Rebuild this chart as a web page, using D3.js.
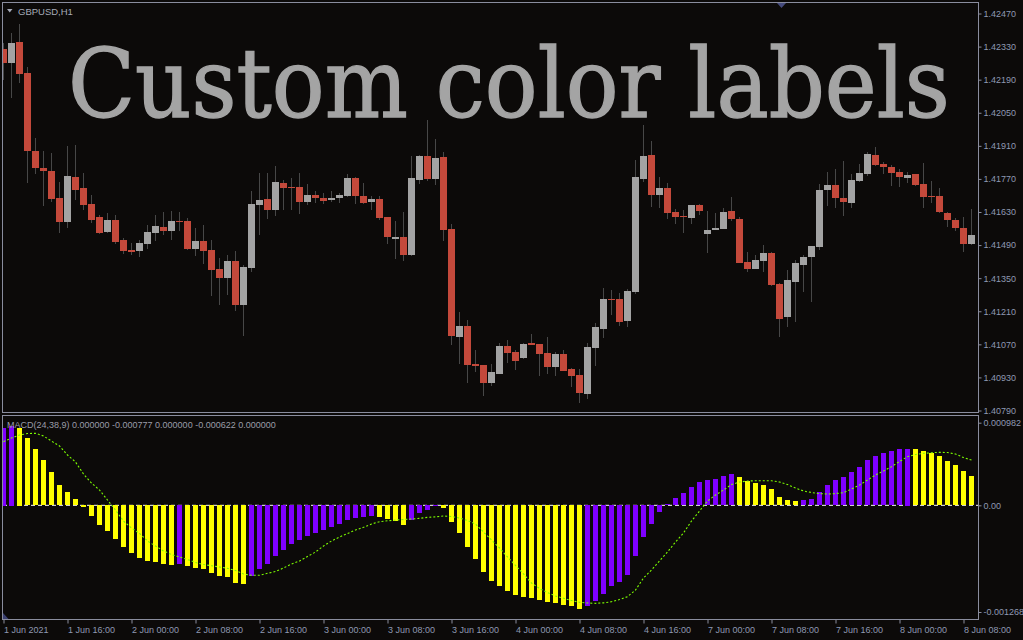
<!DOCTYPE html>
<html><head><meta charset="utf-8">
<script src="https://cdn.jsdelivr.net/npm/d3@7"></script>
<style>html,body{margin:0;padding:0;background:#0c0a09;overflow:hidden}</style>
</head><body><svg id="c" width="1023" height="640"></svg>
<script>
const symbolLabel = "GBPUSD,H1";
const title = "Custom color labels";
const macdLabel = "MACD(24,38,9) 0.000000 -0.000777 0.000000 -0.000622 0.000000";

const open = [
1.42320,1.42260,1.42349,1.42218,1.41888,1.41816,1.41803,1.41689,1.41588,1.41778,
1.41732,1.41664,1.41609,1.41545,1.41596,1.41511,1.41469,1.41465,1.41495,1.41541,
1.41567,1.41550,1.41592,1.41592,1.41473,1.41507,1.41469,1.41389,1.41351,1.41423,
1.41236,1.41393,1.41660,1.41685,1.41638,1.41753,1.41736,1.41736,1.41672,1.41702,
1.41689,1.41681,1.41689,1.41698,1.41774,1.41698,1.41672,1.41685,1.41609,1.41516,
1.41524,1.41448,1.41765,1.41867,1.41770,1.41863,1.41558,1.41101,1.41148,1.40987,
1.40982,1.40906,1.40944,1.41063,1.41037,1.41012,1.41076,1.41071,1.41033,1.40974,
1.41029,1.40966,1.40940,1.40860,1.41054,1.41135,1.41262,1.41262,1.41169,1.41291,
1.41770,1.41871,1.41702,1.41732,1.41630,1.41613,1.41605,1.41660,1.41537,1.41554,
1.41558,1.41634,1.41600,1.41418,1.41389,1.41423,1.41456,1.41325,1.41186,1.41334,
1.41406,1.41440,1.41482,1.41723,1.41744,1.41689,1.41668,1.41761,1.41791,1.41871,
1.41833,1.41820,1.41799,1.41774,1.41791,1.41749,1.41698,1.41698,1.41626,1.41596,
1.41562,1.41495];
const high = [
1.42345,1.42387,1.42426,1.42244,1.41943,1.41888,1.41880,1.41757,1.41909,1.41913,
1.41795,1.41702,1.41617,1.41626,1.41617,1.41520,1.41499,1.41511,1.41575,1.41617,
1.41630,1.41634,1.41630,1.41605,1.41562,1.41575,1.41511,1.41435,1.41448,1.41465,
1.41406,1.41719,1.41795,1.41795,1.41825,1.41765,1.41774,1.41795,1.41749,1.41719,
1.41710,1.41719,1.41710,1.41791,1.41778,1.41753,1.41698,1.41698,1.41609,1.41592,
1.41630,1.41867,1.41871,1.42019,1.41939,1.41884,1.41579,1.41207,1.41173,1.41046,
1.40982,1.40987,1.41076,1.41088,1.41046,1.41076,1.41114,1.41071,1.41101,1.41037,
1.41046,1.40970,1.40966,1.41076,1.41160,1.41308,1.41300,1.41287,1.41304,1.41850,
1.41998,1.41930,1.41778,1.41753,1.41643,1.41638,1.41660,1.41664,1.41634,1.41626,
1.41647,1.41693,1.41609,1.41461,1.41448,1.41490,1.41461,1.41330,1.41385,1.41427,
1.41448,1.41486,1.41749,1.41799,1.41812,1.41846,1.41791,1.41833,1.41884,1.41905,
1.41842,1.41829,1.41812,1.41799,1.41791,1.41837,1.41761,1.41732,1.41630,1.41605,
1.41609,1.41643];
const low = [
1.42189,1.42112,1.42176,1.41753,1.41791,1.41655,1.41672,1.41541,1.41562,1.41681,
1.41638,1.41583,1.41537,1.41541,1.41495,1.41452,1.41448,1.41440,1.41473,1.41507,
1.41533,1.41511,1.41550,1.41469,1.41444,1.41410,1.41274,1.41236,1.41279,1.41211,
1.41105,1.41376,1.41533,1.41600,1.41613,1.41638,1.41638,1.41622,1.41660,1.41668,
1.41664,1.41672,1.41668,1.41693,1.41664,1.41664,1.41638,1.41596,1.41495,1.41431,
1.41423,1.41444,1.41749,1.41761,1.41744,1.41507,1.41067,1.40987,1.40906,1.40953,
1.40851,1.40894,1.40944,1.40991,1.40961,1.41008,1.41067,1.40936,1.40944,1.40936,
1.40957,1.40889,1.40822,1.40839,1.40978,1.41097,1.41194,1.41148,1.41143,1.41283,
1.41757,1.41651,1.41647,1.41600,1.41579,1.41541,1.41579,1.41617,1.41456,1.41554,
1.41558,1.41592,1.41414,1.41376,1.41389,1.41376,1.41317,1.41101,1.41143,1.41164,
1.41291,1.41249,1.41469,1.41655,1.41647,1.41613,1.41647,1.41757,1.41782,1.41825,
1.41791,1.41740,1.41736,1.41753,1.41740,1.41647,1.41668,1.41626,1.41567,1.41550,
1.41461,1.41490];
const close = [
1.42260,1.42345,1.42214,1.41888,1.41816,1.41803,1.41685,1.41588,1.41782,1.41723,
1.41660,1.41596,1.41541,1.41596,1.41503,1.41465,1.41461,1.41499,1.41545,1.41571,
1.41550,1.41592,1.41588,1.41473,1.41507,1.41465,1.41385,1.41351,1.41423,1.41236,
1.41397,1.41664,1.41681,1.41638,1.41757,1.41732,1.41732,1.41672,1.41702,1.41689,
1.41677,1.41689,1.41702,1.41774,1.41698,1.41668,1.41685,1.41605,1.41524,1.41524,
1.41448,1.41774,1.41867,1.41770,1.41858,1.41554,1.41105,1.41148,1.40982,1.40978,
1.40906,1.40953,1.41063,1.41033,1.40999,1.41071,1.41067,1.41029,1.40974,1.41029,
1.40957,1.40936,1.40864,1.41059,1.41143,1.41262,1.41258,1.41164,1.41296,1.41778,
1.41867,1.41702,1.41732,1.41626,1.41609,1.41609,1.41660,1.41634,1.41554,1.41562,
1.41630,1.41600,1.41414,1.41389,1.41427,1.41456,1.41321,1.41177,1.41342,1.41414,
1.41440,1.41486,1.41723,1.41744,1.41689,1.41672,1.41765,1.41795,1.41875,1.41829,
1.41820,1.41795,1.41778,1.41787,1.41744,1.41693,1.41693,1.41630,1.41596,1.41562,
1.41495,1.41533];

const macd = [
0.000922,0.000946,0.000922,0.000800,0.000669,0.000538,0.000396,0.000241,0.000158,0.000075,
-0.000029,-0.000135,-0.000242,-0.000314,-0.000409,-0.000504,-0.000575,-0.000635,-0.000670,-0.000682,
-0.000701,-0.000710,-0.000704,-0.000730,-0.000754,-0.000765,-0.000813,-0.000849,-0.000860,-0.000932,
-0.000934,-0.000849,-0.000765,-0.000706,-0.000611,-0.000540,-0.000468,-0.000421,-0.000365,-0.000338,
-0.000302,-0.000266,-0.000231,-0.000183,-0.000159,-0.000147,-0.000135,-0.000138,-0.000171,-0.000195,
-0.000242,-0.000183,-0.000100,-0.000064,-0.000010,-0.000040,-0.000207,-0.000338,-0.000504,-0.000647,
-0.000801,-0.000908,-0.000967,-0.001027,-0.001074,-0.001098,-0.001110,-0.001134,-0.001158,-0.001169,
-0.001193,-0.001205,-0.001241,-0.001205,-0.001146,-0.001063,-0.000967,-0.000920,-0.000837,-0.000611,
-0.000385,-0.000231,-0.000088,0.000012,0.000087,0.000146,0.000217,0.000277,0.000301,0.000313,
0.000348,0.000372,0.000336,0.000289,0.000265,0.000241,0.000194,0.000099,0.000063,0.000051,
0.000063,0.000075,0.000158,0.000241,0.000301,0.000336,0.000396,0.000455,0.000538,0.000586,
0.000622,0.000645,0.000669,0.000672,0.000668,0.000645,0.000622,0.000586,0.000527,0.000479,
0.000408,0.000348];
const signal = [
0.000756,0.000800,0.000836,0.000853,0.000856,0.000824,0.000764,0.000705,0.000598,0.000515,
0.000372,0.000265,0.000182,0.000063,-0.000056,-0.000187,-0.000270,-0.000333,-0.000424,-0.000484,
-0.000543,-0.000585,-0.000614,-0.000644,-0.000680,-0.000704,-0.000718,-0.000733,-0.000749,-0.000775,
-0.000816,-0.000832,-0.000832,-0.000808,-0.000787,-0.000745,-0.000698,-0.000662,-0.000609,-0.000555,
-0.000484,-0.000424,-0.000377,-0.000335,-0.000294,-0.000261,-0.000222,-0.000195,-0.000184,-0.000175,
-0.000169,-0.000163,-0.000155,-0.000143,-0.000137,-0.000127,-0.000133,-0.000151,-0.000181,-0.000222,
-0.000317,-0.000412,-0.000507,-0.000614,-0.000715,-0.000816,-0.000923,-0.000989,-0.001036,-0.001078,
-0.001105,-0.001131,-0.001153,-0.001161,-0.001165,-0.001159,-0.001146,-0.001120,-0.001086,-0.001007,
-0.000864,-0.000769,-0.000662,-0.000555,-0.000436,-0.000329,-0.000187,-0.000068,0.000051,0.000122,
0.000182,0.000247,0.000277,0.000289,0.000292,0.000292,0.000292,0.000277,0.000247,0.000206,
0.000170,0.000152,0.000140,0.000134,0.000140,0.000150,0.000194,0.000241,0.000301,0.000360,
0.000408,0.000459,0.000521,0.000578,0.000604,0.000618,0.000625,0.000630,0.000628,0.000610,
0.000568,0.000538];

const timeTickIndex = [0,8,16,24,32,40,48,56,64,72,80,88,96,104,112,120];
const timeTickLabels = ["1 Jun 2021","1 Jun 16:00","2 Jun 00:00","2 Jun 08:00","2 Jun 16:00",
  "3 Jun 00:00","3 Jun 08:00","3 Jun 16:00","4 Jun 00:00","4 Jun 08:00","4 Jun 16:00",
  "7 Jun 00:00","7 Jun 08:00","7 Jun 16:00","8 Jun 00:00","8 Jun 08:00"];
const priceTicks = [1.42470,1.42330,1.42190,1.42050,1.41910,1.41770,1.41630,1.41490,1.41350,1.41210,1.41070,1.40930,1.40790];
const macdTicks = [0.000982, 0, -0.001268];
const macdTickLabels = ["0.000982","0.00","-0.001268"];

const BG = "#0c0a09", FRAME = "#8a8d9e", AXTXT = "#8f99b2";
const FONT = "Liberation Sans, Arial, sans-serif";
const n = close.length;
const svg = d3.select("#c");
svg.append("rect").attr("width",1023).attr("height",640).attr("fill",BG);

const x = d3.scaleLinear().domain([0, n-1]).range([3.5, 3.5 + 8*(n-1)]);
const y = d3.scaleLinear().domain([1.40790, 1.42470]).range([410.5, 13.5]);
const ym = d3.scaleLinear().domain([-0.001268, 0.000982]).range([612, 422.7]);

const defs = svg.append("defs");
defs.append("clipPath").attr("id","cm").append("rect").attr("x",3).attr("y",3).attr("width",975).attr("height",409);
defs.append("clipPath").attr("id","cd").append("rect").attr("x",3).attr("y",416).attr("width",975).attr("height",203);

// ---- main pane
const gm = svg.append("g").attr("clip-path","url(#cm)");
const idx = d3.range(n);
gm.selectAll("line.w").data(idx).join("line").attr("class","w")
  .attr("x1",i=>x(i)).attr("x2",i=>x(i))
  .attr("y1",i=>Math.round(y(high[i]))).attr("y2",i=>Math.round(y(low[i])))
  .attr("stroke","#474747").attr("stroke-width",1);
gm.selectAll("rect.b").data(idx).join("rect").attr("class","b")
  .attr("x",i=>x(i)-3.5).attr("width",7)
  .attr("y",i=>Math.round(y(Math.max(open[i],close[i]))))
  .attr("height",i=>Math.max(1, Math.round(y(Math.min(open[i],close[i]))) - Math.round(y(Math.max(open[i],close[i])))))
  .attr("fill",i=>close[i]>=open[i] ? "#a3a3a3" : "#c4493b");

// title, scaled horizontally to the reference width
const tt = svg.append("text").attr("x",0).attr("y",0).text(title)
  .attr("font-family","DejaVu Serif, serif").attr("font-size",95)
  .attr("fill","#a4a4a4").attr("stroke","#a4a4a4").attr("stroke-width",1.4);
const tw = tt.node().getComputedTextLength();
tt.attr("transform", `translate(68,117) scale(${882/tw},1)`);

svg.append("path").attr("d","M7,9L12.5,9L9.75,12.5Z").attr("fill","#a6aab8");
svg.append("text").attr("x",18).attr("y",14.5).text(symbolLabel)
  .attr("font-family",FONT).attr("font-size",9.5).attr("fill","#a6aab8");

// ---- MACD pane
const gd = svg.append("g").attr("clip-path","url(#cd)");
gd.append("line").attr("x1",3).attr("x2",978).attr("y1",ym(0)).attr("y2",ym(0))
  .attr("stroke","#ffffff").attr("stroke-dasharray","4,3");
gd.selectAll("rect.h").data(idx).join("rect").attr("class","h")
  .attr("x",i=>x(i)-2.5).attr("width",5)
  .attr("y",i=>Math.round(Math.min(ym(macd[i]), ym(0))))
  .attr("height",i=>Math.max(1, Math.round(Math.abs(ym(macd[i]) - ym(0)))))
  .attr("fill",i=>(i===0 || macd[i] > macd[i-1]) ? "#7f00ff" : "#ffff00");
gd.append("path").datum(signal)
  .attr("d", d3.line().x((d,i)=>x(i)).y(d=>ym(d)))
  .attr("fill","none").attr("stroke","#7cfc00").attr("stroke-width",1.1)
  .attr("stroke-dasharray","2,2");
svg.append("text").attr("x",7).attr("y",428).text(macdLabel)
  .attr("font-family",FONT).attr("font-size",9).attr("fill","#9a9ca8");
svg.append("path").attr("d","M3,613L3,619L8.5,619Z").attr("fill","#3b4070");

// ---- frames
const fr = svg.append("g").attr("fill","none").attr("stroke",FRAME).attr("stroke-width",1);
fr.append("rect").attr("x",2.5).attr("y",2.5).attr("width",976).attr("height",410);
fr.append("rect").attr("x",2.5).attr("y",415.5).attr("width",976).attr("height",204);
svg.append("path").attr("d","M777,3L786,3L781.5,8Z").attr("fill","#454b7d");

// ---- axes
function styleAxis(g){
  g.select(".domain").remove();
  g.selectAll(".tick line").attr("stroke",FRAME);
  g.selectAll(".tick text").attr("fill",AXTXT).attr("font-family",FONT).attr("font-size",9);
}
svg.append("g").attr("transform","translate(978.5,0)")
  .call(d3.axisRight(y).tickValues(priceTicks).tickSize(3).tickPadding(2).tickFormat(d3.format(".5f")))
  .call(styleAxis);
svg.append("g").attr("transform","translate(978.5,0)")
  .call(d3.axisRight(ym).tickValues(macdTicks).tickSize(3).tickPadding(2).tickFormat((d,i)=>macdTickLabels[i]))
  .call(styleAxis);
const ga = svg.append("g").attr("transform","translate(0,619.5)")
  .call(d3.axisBottom(x).tickValues(timeTickIndex).tickSize(4).tickPadding(3).tickFormat((d,i)=>timeTickLabels[i]))
  .call(styleAxis);
ga.selectAll(".tick text").attr("text-anchor","start").attr("x",0);
</script></body></html>
